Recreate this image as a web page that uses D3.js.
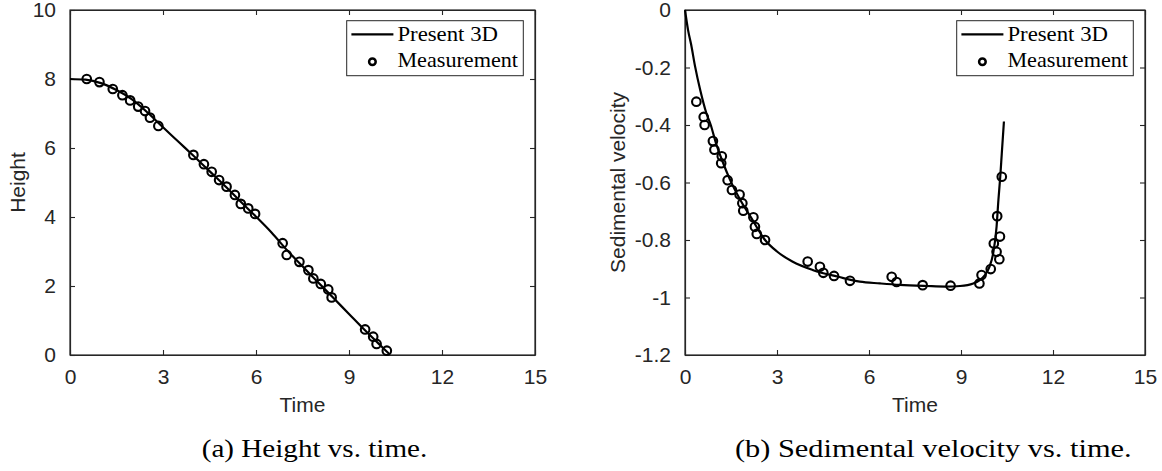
<!DOCTYPE html>
<html>
<head>
<meta charset="utf-8">
<script src="https://cdn.jsdelivr.net/npm/d3@7"></script>
<style>
  html, body { margin: 0; padding: 0; background: #fff; }
  svg { display: block; }
</style>
</head>
<body>
<svg id="chart" width="1162" height="471"></svg>
<script>
// ---------- Data ----------
// (a) Height vs. time
const heightCurveT = [0, 0.5, 1, 1.5, 2, 2.5, 3, 3.5, 4, 4.5, 5, 5.5, 6, 6.5, 7, 7.5, 8, 8.5, 9, 9.5, 10, 10.3];
const heightCurveH = [8.00, 7.98, 7.88, 7.68, 7.41, 7.03, 6.60, 6.18, 5.76, 5.33, 4.90, 4.45, 4.01, 3.55, 3.04, 2.57, 2.11, 1.65, 1.19, 0.73, 0.29, 0.03];
const heightMeasT = [0.54, 0.95, 1.38, 1.69, 1.94, 2.20, 2.42, 2.58, 2.85, 3.98, 4.32, 4.57, 4.81, 5.05, 5.32, 5.51, 5.75, 5.97, 6.86, 6.99, 7.40, 7.69, 7.85, 8.09, 8.33, 8.44, 9.52, 9.78, 9.89, 10.22];
const heightMeasH = [8.00, 7.91, 7.71, 7.53, 7.38, 7.20, 7.07, 6.88, 6.64, 5.80, 5.53, 5.31, 5.07, 4.88, 4.64, 4.38, 4.25, 4.09, 3.24, 2.90, 2.70, 2.46, 2.22, 2.06, 1.90, 1.67, 0.74, 0.53, 0.32, 0.125];

// (b) Sedimental velocity vs. time
const velCurveT = [0, 0.1, 0.2, 0.33, 0.5, 0.7, 0.84, 1.0, 1.2, 1.47, 1.8, 2.2, 2.61, 3.0, 3.5, 4.18, 5.0, 5.7, 6.36, 7.0, 7.88, 8.5, 8.97, 9.4, 9.6, 9.78, 9.92, 10.05, 10.16, 10.22, 10.28, 10.33, 10.4];
const velCurveV = [0, -0.07, -0.12, -0.197, -0.28, -0.36, -0.40, -0.46, -0.52, -0.591, -0.66, -0.73, -0.80, -0.84, -0.875, -0.905, -0.928, -0.945, -0.951, -0.956, -0.96, -0.962, -0.96, -0.951, -0.94, -0.922, -0.895, -0.846, -0.754, -0.661, -0.58, -0.499, -0.388];
const velMeasT = [0.37, 0.61, 0.64, 0.91, 0.96, 1.20, 1.18, 1.39, 1.53, 1.78, 1.87, 1.90, 2.23, 2.28, 2.34, 2.61, 4.00, 4.40, 4.51, 4.86, 5.38, 6.74, 6.90, 7.75, 8.66, 9.60, 9.67, 9.97, 10.07, 10.16, 10.25, 10.27, 10.18, 10.33];
const velMeasV = [-0.319, -0.372, -0.40, -0.456, -0.486, -0.509, -0.533, -0.592, -0.626, -0.642, -0.672, -0.698, -0.721, -0.754, -0.779, -0.80, -0.875, -0.893, -0.914, -0.925, -0.942, -0.928, -0.946, -0.957, -0.959, -0.951, -0.922, -0.901, -0.812, -0.841, -0.867, -0.788, -0.717, -0.58];

const xTicks = [0, 3, 6, 9, 12, 15];
const heightTicks = [0, 2, 4, 6, 8, 10];
const velTicks = [0, -0.2, -0.4, -0.6, -0.8, -1, -1.2];
const velTickLabels = ["0", "-0.2", "-0.4", "-0.6", "-0.8", "-1", "-1.2"];
const legendLabels = ["Present 3D", "Measurement"];
const captions = ["(a) Height vs. time.", "(b) Sedimental velocity vs. time."];
const yLabels = ["Height", "Sedimental velocity"];
const xLabel = "Time";

// ---------- Drawing ----------
const svg = d3.select("#chart");
const AX = "#262626";
const SANS = "Liberation Sans, Arial, Helvetica, sans-serif";
const SERIF = "Liberation Serif, Times New Roman, Times, serif";

function panel(cfg) {
  const g = svg.append("g");
  const x = d3.scaleLinear().domain([0, 15]).range([cfg.left, cfg.right]);
  const y = d3.scaleLinear().domain(cfg.yDomain).range([cfg.bottom, cfg.top]);

  // box
  g.append("rect")
    .attr("x", cfg.left).attr("y", cfg.top)
    .attr("width", cfg.right - cfg.left).attr("height", cfg.bottom - cfg.top)
    .attr("fill", "none").attr("stroke", AX).attr("stroke-width", 1.2);

  // axes via d3.axis (ticks inward)
  const xb = g.append("g").attr("transform", `translate(0,${cfg.bottom})`)
    .call(d3.axisBottom(x).tickValues(xTicks).tickSizeInner(-5).tickSizeOuter(0).tickPadding(13));
  const xt = g.append("g").attr("transform", `translate(0,${cfg.top})`)
    .call(d3.axisTop(x).tickValues(xTicks).tickSizeInner(-5).tickSizeOuter(0).tickFormat(""));
  const yl = g.append("g").attr("transform", `translate(${cfg.left},0)`)
    .call(d3.axisLeft(y).tickValues(cfg.yTicks).tickSizeInner(-5).tickSizeOuter(0).tickPadding(14).tickFormat(cfg.yFmt));
  const yr = g.append("g").attr("transform", `translate(${cfg.right},0)`)
    .call(d3.axisRight(y).tickValues(cfg.yTicks).tickSizeInner(-5).tickSizeOuter(0).tickFormat(""));
  [xb, xt, yl, yr].forEach(a => {
    a.attr("font-family", SANS).attr("font-size", 21);
    a.select(".domain").attr("stroke", AX).attr("stroke-width", 1.2);
    a.selectAll(".tick line").attr("stroke", AX).attr("stroke-width", 1.1);
    a.selectAll(".tick text").attr("fill", AX);
  });
  xb.selectAll(".tick text").attr("dy", "0.75em");

  // axis labels
  g.append("text").attr("x", (cfg.left + cfg.right) / 2).attr("y", 411.5)
    .attr("text-anchor", "middle").attr("fill", AX)
    .attr("font-family", SANS).attr("font-size", 21).text(xLabel);
  g.append("text").attr("transform", `translate(${cfg.yLabelX},${(cfg.top + cfg.bottom) / 2}) rotate(-90)`)
    .attr("text-anchor", "middle").attr("fill", AX)
    .attr("font-family", SANS).attr("font-size", 21).text(cfg.yLabel);

  // curve
  const pts = cfg.curveX.map((t, i) => [t, cfg.curveY[i]]);
  g.append("path").datum(pts)
    .attr("d", d3.line().x(d => x(d[0])).y(d => y(d[1])).curve(d3.curveMonotoneX))
    .attr("fill", "none").attr("stroke", "#000").attr("stroke-width", 2.2);

  // markers
  const m = cfg.measX.map((t, i) => [t, cfg.measY[i]]);
  g.selectAll("circle.meas").data(m).enter().append("circle")
    .attr("class", "meas")
    .attr("cx", d => x(d[0])).attr("cy", d => y(d[1])).attr("r", 4.3)
    .attr("fill", "none").attr("stroke", "#000").attr("stroke-width", 2.1);

  // legend
  const lw = 176.6, lh = 55, lx = cfg.right - 11.7 - lw, ly = cfg.top + 10.7;
  const lg = g.append("g");
  lg.append("rect").attr("x", lx).attr("y", ly).attr("width", lw).attr("height", lh)
    .attr("fill", "#fff").attr("stroke", AX).attr("stroke-width", 1);
  lg.append("line").attr("x1", lx + 4.7).attr("x2", lx + 46.7)
    .attr("y1", ly + 13.6).attr("y2", ly + 13.6)
    .attr("stroke", "#000").attr("stroke-width", 2.2);
  lg.append("circle").attr("cx", lx + 25.7).attr("cy", ly + 41)
    .attr("r", 3.3).attr("fill", "none").attr("stroke", "#000").attr("stroke-width", 2.5);
  const lens = [100.6, 120.6];
  legendLabels.forEach((s, i) => {
    lg.append("text").attr("x", lx + 50.7).attr("y", ly + 20 + i * 26.2)
      .attr("fill", "#000").attr("font-family", SERIF).attr("font-size", 22)
      .attr("textLength", lens[i]).attr("lengthAdjust", "spacingAndGlyphs")
      .text(s);
  });

  // caption
  g.append("text").attr("x", cfg.capX).attr("y", 457)
    .attr("text-anchor", "middle").attr("fill", "#000")
    .attr("font-family", SERIF).attr("font-size", 26)
    .attr("textLength", cfg.capLen).attr("lengthAdjust", "spacingAndGlyphs")
    .text(cfg.caption);
}

panel({
  left: 70, right: 535, top: 10, bottom: 355,
  yDomain: [0, 10], yTicks: heightTicks, yFmt: d => String(d),
  yLabel: yLabels[0], yLabelX: 25,
  curveX: heightCurveT, curveY: heightCurveH,
  measX: heightMeasT, measY: heightMeasH,
  caption: captions[0], capX: 314.5, capLen: 225.6
});

panel({
  left: 685, right: 1145, top: 10, bottom: 355,
  yDomain: [-1.2, 0], yTicks: velTicks, yFmt: (d, i) => velTickLabels[i],
  yLabel: yLabels[1], yLabelX: 625,
  curveX: velCurveT, curveY: velCurveV,
  measX: velMeasT, measY: velMeasV,
  caption: captions[1], capX: 933.3, capLen: 396.7
});
</script>
</body>
</html>
